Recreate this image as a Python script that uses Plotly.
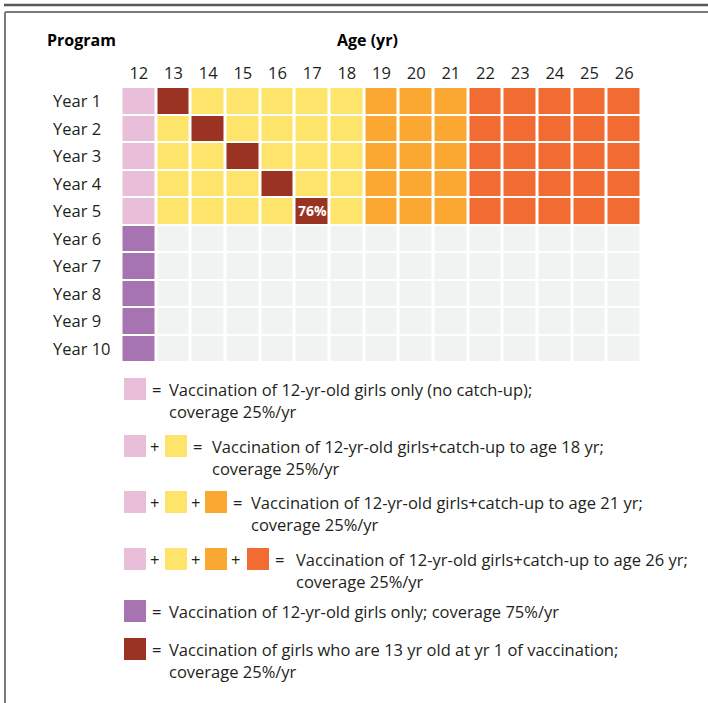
import plotly.graph_objects as go

# ---------------- data ----------------
ages = [12, 13, 14, 15, 16, 17, 18, 19, 20, 21, 22, 23, 24, 25, 26]
programs = ["Year 1", "Year 2", "Year 3", "Year 4", "Year 5",
            "Year 6", "Year 7", "Year 8", "Year 9", "Year 10"]

# category codes: 0 none, 1 12-yr 25%, 2 catch-up to 18, 3 catch-up to 21,
# 4 catch-up to 26, 5 12-yr 75%, 6 cohort 13 yr old at yr 1
year1 = [1, 6, 2, 2, 2, 2, 2, 3, 3, 3, 4, 4, 4, 4, 4]
year2 = [1, 2, 6, 2, 2, 2, 2, 3, 3, 3, 4, 4, 4, 4, 4]
year3 = [1, 2, 2, 6, 2, 2, 2, 3, 3, 3, 4, 4, 4, 4, 4]
year4 = [1, 2, 2, 2, 6, 2, 2, 3, 3, 3, 4, 4, 4, 4, 4]
year5 = [1, 2, 2, 2, 2, 6, 2, 3, 3, 3, 4, 4, 4, 4, 4]
year6 = [5, 0, 0, 0, 0, 0, 0, 0, 0, 0, 0, 0, 0, 0, 0]
year7 = [5, 0, 0, 0, 0, 0, 0, 0, 0, 0, 0, 0, 0, 0, 0]
year8 = [5, 0, 0, 0, 0, 0, 0, 0, 0, 0, 0, 0, 0, 0, 0]
year9 = [5, 0, 0, 0, 0, 0, 0, 0, 0, 0, 0, 0, 0, 0, 0]
year10 = [5, 0, 0, 0, 0, 0, 0, 0, 0, 0, 0, 0, 0, 0, 0]
codes = [year1, year2, year3, year4, year5, year6, year7, year8, year9, year10]

cell_label_age = 17
cell_label_program = "Year 5"
cell_label_text = "76%"

category_colors = ["#F1F2F2", "#E9BED8", "#FFE46C", "#FBA833",
                   "#F26B32", "#A674B0", "#9B3323"]

legend_swatches = [[1], [1, 2], [1, 2, 3], [1, 2, 3, 4], [5], [6]]
legend_line1 = [
    "Vaccination of 12-yr-old girls only (no catch-up);",
    "Vaccination of 12-yr-old girls+catch-up to age 18 yr;",
    "Vaccination of 12-yr-old girls+catch-up to age 21 yr;",
    "Vaccination of 12-yr-old girls+catch-up to age 26 yr;",
    "Vaccination of 12-yr-old girls only; coverage 75%/yr",
    "Vaccination of girls who are 13 yr old at yr 1 of vaccination;",
]
legend_line2 = ["coverage 25%/yr", "coverage 25%/yr", "coverage 25%/yr",
                "coverage 25%/yr", "", "coverage 25%/yr"]

# ---------------- layout helpers ----------------
W, H = 708, 703
FONT = "Open Sans"
TXT = "#231F20"
FS = 16.5


def px(x):
    return x / W


def py(y):
    return 1 - y / H


n = len(category_colors)
colorscale = []
for i, c in enumerate(category_colors):
    colorscale.append([i / n, c])
    colorscale.append([(i + 1) / n, c])

fig = go.Figure()
fig.add_trace(go.Heatmap(
    z=codes, x=ages, y=programs,
    zmin=-0.5, zmax=n - 0.5,
    colorscale=colorscale, showscale=False,
    xgap=3, ygap=2, hoverinfo="skip",
))

grid_left, grid_right = 121.5, 641.5
grid_top, grid_bottom = 87, 362

fig.update_layout(
    width=W, height=H,
    margin=dict(l=0, r=0, t=0, b=0),
    paper_bgcolor="white", plot_bgcolor="white",
    font=dict(family=FONT, color=TXT),
    xaxis=dict(
        domain=[px(grid_left), px(grid_right)],
        range=[ages[0] - 0.5, ages[-1] + 0.5],
        side="top", tickmode="array", tickvals=ages,
        ticktext=[str(a) for a in ages],
        tickfont=dict(size=FS, color=TXT, family=FONT),
        ticks="", showgrid=False, zeroline=False, showline=False,
        ticklabelstandoff=4, fixedrange=True,
    ),
    yaxis=dict(
        domain=[py(grid_bottom), py(grid_top)],
        range=[len(programs) - 0.5, -0.5],
        showticklabels=False, ticks="", showgrid=False,
        zeroline=False, showline=False, fixedrange=True,
    ),
)

annotations = []
shapes = []

# row labels
for p in programs:
    annotations.append(dict(
        text=p, x=px(51), xref="paper", y=p, yref="y",
        xanchor="left", yanchor="middle", showarrow=False,
        font=dict(size=FS, color=TXT, family=FONT)))

# headers
annotations.append(dict(text="<b>Program</b>", x=px(45), y=py(40),
                        xref="paper", yref="paper", xanchor="left",
                        yanchor="middle", showarrow=False,
                        font=dict(size=16, color="#000", family=FONT)))
annotations.append(dict(text="<b>Age (yr)</b>", x=px(367), y=py(40),
                        xref="paper", yref="paper", xanchor="center",
                        yanchor="middle", showarrow=False,
                        font=dict(size=16, color="#000", family=FONT)))

# in-cell label
annotations.append(dict(text="<b>" + cell_label_text + "</b>",
                        x=cell_label_age, y=cell_label_program,
                        xref="x", yref="y", showarrow=False,
                        font=dict(size=14, color="white", family=FONT)))

# legend
sw_top = [378, 435, 491, 548, 600, 638]
sw_x = [124, 165, 205, 247]
sw_size = 22
text_gap = [21, 23, 22, 25, 21, 21]
for k, combo in enumerate(legend_swatches):
    top = sw_top[k]
    cy = top + sw_size / 2
    for j, cat in enumerate(combo):
        x0 = sw_x[j]
        shapes.append(dict(type="rect", xref="paper", yref="paper",
                           x0=px(x0), x1=px(x0 + sw_size),
                           y0=py(top + sw_size), y1=py(top),
                           fillcolor=category_colors[cat],
                           line=dict(width=0)))
        if j < len(combo) - 1:
            annotations.append(dict(text="+", x=px(x0 + sw_size + 8),
                                    y=py(cy), xref="paper", yref="paper",
                                    xanchor="center", yanchor="middle",
                                    showarrow=False,
                                    font=dict(size=FS, color=TXT)))
    end = sw_x[len(combo) - 1] + sw_size
    annotations.append(dict(text="=", x=px(end + 10), y=py(cy),
                            xref="paper", yref="paper", xanchor="center",
                            yanchor="middle", showarrow=False,
                            font=dict(size=FS, color=TXT)))
    tx = end + text_gap[k]
    annotations.append(dict(text=legend_line1[k], x=px(tx), y=py(cy),
                            xref="paper", yref="paper", xanchor="left",
                            yanchor="middle", showarrow=False,
                            font=dict(size=FS, color=TXT)))
    if legend_line2[k]:
        annotations.append(dict(text=legend_line2[k], x=px(tx),
                                y=py(cy + 22), xref="paper", yref="paper",
                                xanchor="left", yanchor="middle",
                                showarrow=False,
                                font=dict(size=FS, color=TXT)))

# frame lines
shapes.append(dict(type="line", xref="paper", yref="paper",
                   x0=px(4), x1=1, y0=py(5), y1=py(5),
                   line=dict(color="#58585A", width=2.5)))
shapes.append(dict(type="line", xref="paper", yref="paper",
                   x0=px(5), x1=1, y0=py(12), y1=py(12),
                   line=dict(color="#7A7A7C", width=2)))
shapes.append(dict(type="line", xref="paper", yref="paper",
                   x0=px(5), x1=px(5), y0=0, y1=py(12),
                   line=dict(color="#7A7A7C", width=2)))

fig.update_layout(annotations=annotations, shapes=shapes)
fig.write_html(
    "out.html",
    config={"displayModeBar": False},
    post_script="document.body.style.margin='0px';"
                "document.body.style.overflow='hidden';",
)
